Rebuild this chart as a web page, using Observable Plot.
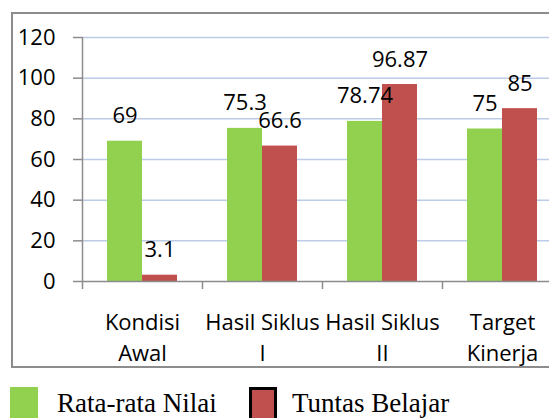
<!DOCTYPE html>
<html>
<head>
<meta charset="utf-8">
<script src="https://cdn.jsdelivr.net/npm/d3@7"></script>
<script src="https://cdn.jsdelivr.net/npm/@observablehq/plot@0.6"></script>
<style>
  html, body { margin: 0; padding: 0; width: 549px; height: 418px; overflow: hidden; background: #fff; }
  #clip { position: absolute; left: 0; top: 0; width: 549px; height: 375px; overflow: hidden; }
  #clip svg { max-width: none !important; width: 600px !important; height: 375px !important; }
  #box { position: absolute; left: 11px; top: 12px; width: 600px; height: 356px; border: 2px solid #8c8c8c; box-sizing: border-box; pointer-events: none; }
  #legend { position: absolute; left: 0; top: 386px; width: 549px; height: 40px; font-family: "Liberation Serif", "Times New Roman", serif; font-size: 27px; color: #000; }
  .sw { position: absolute; top: 1px; width: 28px; height: 36px; box-sizing: border-box; }
  .lt { position: absolute; top: 0px; line-height: 34px; white-space: nowrap; }
</style>
</head>
<body>
<div id="clip"></div>
<div id="box"></div>
<div id="legend"></div>
<script>
const categories = ["Kondisi Awal", "Hasil Siklus I", "Hasil Siklus II", "Target Kinerja"];
const categoryLabels = ["Kondisi\nAwal", "Hasil Siklus\nI", "Hasil Siklus\nII", "Target\nKinerja"];
const rataRataNilai = [69, 75.3, 78.74, 75];
const tuntasBelajar = [3.1, 66.6, 96.87, 85];
const yTicks = [0, 20, 40, 60, 80, 100, 120];
const seriesNames = ["Rata-rata Nilai", "Tuntas Belajar"];
const seriesColors = ["#92D050", "#C0504D"];

const rows = categories.map((c, i) => ({cat: c, label: categoryLabels[i], rata: rataRataNilai[i], tuntas: tuntasBelajar[i]}));
const font = "'Open Sans', sans-serif";

const chart = Plot.plot({
  width: 600,
  height: 375,
  marginLeft: 82,
  marginRight: 38,
  marginTop: 37,
  marginBottom: 94,
  style: {fontFamily: font, background: "transparent"},
  x: {type: "band", domain: categories, padding: 0, axis: null, label: null},
  y: {domain: [0, 120], axis: null, label: null},
  marks: [
    Plot.gridY(yTicks.filter(d => d > 0), {stroke: "#bccbe8", strokeOpacity: 1, strokeWidth: 1.5}),
    Plot.barY(rows, {x: "cat", y: "rata", fill: seriesColors[0], insetLeft: 25, insetRight: 60}),
    Plot.barY(rows, {x: "cat", y: "tuntas", fill: seriesColors[1], insetLeft: 60, insetRight: 25}),
    Plot.ruleY([0], {stroke: "#8c8c8c", strokeWidth: 1.5}),
    Plot.ruleX(categories.slice(0, 1), {x: d => d, dx: -60, stroke: "#8c8c8c", strokeWidth: 1.5}),
    Plot.axisY({ticks: yTicks, tickSize: 9, tickFormat: () => "", label: null, stroke: "#8c8c8c", strokeWidth: 1.5}),
    Plot.axisY({ticks: yTicks, tickSize: 0, tickPadding: 27, label: null, fontSize: 22, fill: "#000"}),
    Plot.axisX({ticks: categories, tickSize: 8, tickFormat: () => "", label: null, dx: -60, stroke: "#8c8c8c", strokeWidth: 1.5}),
    Plot.text(rows, {x: "cat", text: "label", frameAnchor: "bottom", lineAnchor: "top", dy: 26, fontSize: 22, lineHeight: 1.42, fill: "#000"}),
    Plot.text(rows, {x: "cat", y: "rata", text: d => String(d.rata), dx: -17.5, dy: -18, lineAnchor: "bottom", fontSize: 22, fill: "#000"}),
    Plot.text(rows, {x: "cat", y: "tuntas", text: d => String(d.tuntas), dx: 17.5, dy: -18, lineAnchor: "bottom", fontSize: 22, fill: "#000"})
  ]
});
document.getElementById("clip").appendChild(chart);

const legend = document.getElementById("legend");
const legendPos = [{sw: 10, tx: 57}, {sw: 249, tx: 292}];
seriesNames.forEach((name, i) => {
  const sw = document.createElement("div");
  sw.className = "sw";
  sw.style.left = legendPos[i].sw + "px";
  sw.style.background = seriesColors[i];
  if (i === 1) sw.style.border = "3px solid #000";
  legend.appendChild(sw);
  const t = document.createElement("div");
  t.className = "lt";
  t.style.left = legendPos[i].tx + "px";
  t.textContent = name;
  legend.appendChild(t);
});
</script>
</body>
</html>
